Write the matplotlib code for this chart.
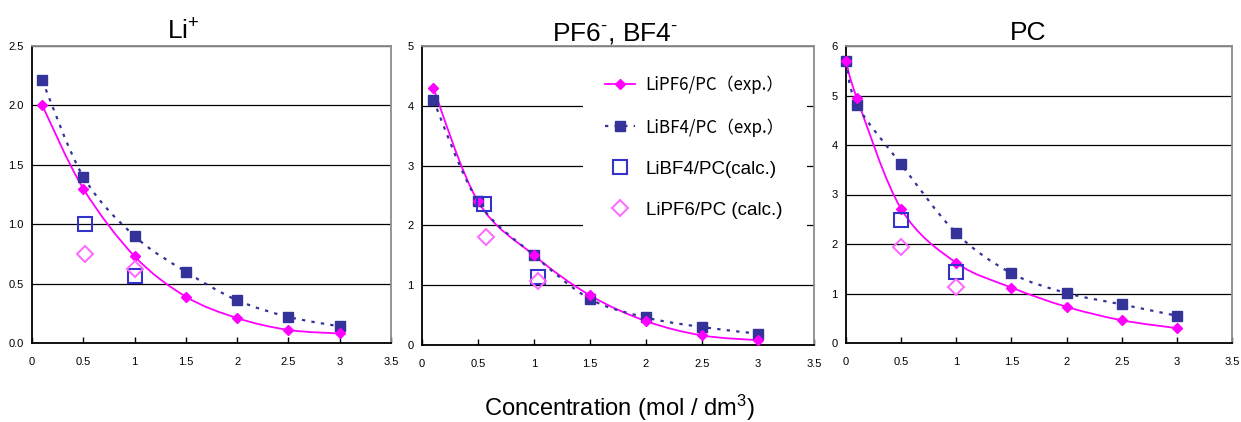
import matplotlib
matplotlib.use('Agg')
import matplotlib.pyplot as plt
from matplotlib.path import Path
from matplotlib.patches import PathPatch
from matplotlib.lines import Line2D
import numpy as np

# ---------------- data ----------------
conc_li = [0.1, 0.5, 1, 1.5, 2, 2.5, 3]
li_pf6_exp = [2.00, 1.30, 0.73, 0.39, 0.21, 0.11, 0.08]
li_bf4_exp = [2.21, 1.40, 0.90, 0.60, 0.36, 0.22, 0.14]
li_bf4_calc_x = [0.52, 1.0]
li_bf4_calc = [1.00, 0.56]
li_pf6_calc_x = [0.52, 1.0]
li_pf6_calc = [0.75, 0.62]

conc_an = [0.1, 0.5, 1, 1.5, 2, 2.5, 3]
an_pf6_exp = [4.30, 2.40, 1.50, 0.83, 0.40, 0.16, 0.08]
an_bf4_exp = [4.10, 2.40, 1.50, 0.77, 0.46, 0.30, 0.19]
an_bf4_calc_x = [0.55, 1.04]
an_bf4_calc = [2.35, 1.13]
an_pf6_calc_x = [0.57, 1.04]
an_pf6_calc = [1.80, 1.07]

conc_pc = [0, 0.1, 0.5, 1, 1.5, 2, 2.5, 3]
pc_pf6_exp = [5.70, 4.94, 2.71, 1.62, 1.12, 0.73, 0.46, 0.30]
pc_bf4_exp = [5.70, 4.81, 3.61, 2.22, 1.41, 1.01, 0.78, 0.55]
pc_bf4_calc_x = [0.5, 1.0]
pc_bf4_calc = [2.48, 1.44]
pc_pf6_calc_x = [0.5, 1.0]
pc_pf6_calc = [1.94, 1.13]

titles = ['Li$^{+}$', 'PF6$^{\u2010}$, BF4$^{\u2010}$', 'PC']
xticks = [0, 0.5, 1, 1.5, 2, 2.5, 3, 3.5]
xticklabels = ['0', '0.5', '1', '1.5', '2', '2.5', '3', '3.5']
legend_labels = ['LiPF6/PC（exp.）', 'LiBF4/PC（exp.）', 'LiBF4/PC(calc.)', 'LiPF6/PC (calc.)']
xlabel = 'Concentration (mol / dm$^{\\mathrm{3}}$)'

# ---------------- style ----------------
plt.rcParams['font.family'] = ['Liberation Sans', 'DejaVu Sans']
plt.rcParams['mathtext.fontset'] = 'custom'
plt.rcParams['mathtext.rm'] = 'Liberation Sans'
plt.rcParams['mathtext.it'] = 'Liberation Sans'

MAG = '#FF00FF'
NAVY = '#333399'
BLUE = '#3333CC'
PINK = '#FF66FF'
DOT = (0, (1.5, 2.8))


def smooth_path(x, y):
    x = np.asarray(x, float)
    y = np.asarray(y, float)
    n = len(x)
    verts = [(x[0], y[0])]
    codes = [Path.MOVETO]
    for i in range(n - 1):
        i0 = max(i - 1, 0)
        i3 = min(i + 2, n - 1)
        c1 = (x[i] + (x[i + 1] - x[i0]) / 6, y[i] + (y[i + 1] - y[i0]) / 6)
        c2 = (x[i + 1] - (x[i3] - x[i]) / 6, y[i + 1] - (y[i3] - y[i]) / 6)
        verts += [c1, c2, (x[i + 1], y[i + 1])]
        codes += [Path.CURVE4] * 3
    return Path(verts, codes)


fig = plt.figure(figsize=(12.41, 4.22), dpi=100)
W, H = 1241, 422
boxes = [(32, 46, 391, 343), (422, 46, 814, 345), (846, 46, 1232, 343)]
axes = []
for (l, t, r, b) in boxes:
    axes.append(fig.add_axes([l / W, 1 - b / H, (r - l) / W, (b - t) / H]))

panels = [
    (conc_li, li_pf6_exp, li_bf4_exp, li_bf4_calc_x, li_bf4_calc, li_pf6_calc_x, li_pf6_calc, 2.5, 0.5, '%.1f'),
    (conc_an, an_pf6_exp, an_bf4_exp, an_bf4_calc_x, an_bf4_calc, an_pf6_calc_x, an_pf6_calc, 5, 1, '%d'),
    (conc_pc, pc_pf6_exp, pc_bf4_exp, pc_bf4_calc_x, pc_bf4_calc, pc_pf6_calc_x, pc_pf6_calc, 6, 1, '%d'),
]

for ax, p in zip(axes, panels):
    cx, pf6, bf4, bx, bc, px, pcv, ymax, ystep, fmt = p
    ax.add_patch(PathPatch(smooth_path(cx, pf6), fill=False, edgecolor=MAG, lw=1.3, zorder=3))
    ax.add_patch(PathPatch(smooth_path(cx, bf4), fill=False, edgecolor=NAVY, lw=1.6,
                           linestyle=DOT, zorder=3))
    ax.plot(cx, bf4, ls='none', marker='s', ms=6.5, mfc=NAVY, mec=NAVY, zorder=4, clip_on=False)
    ax.plot(cx, pf6, ls='none', marker='D', ms=4.6, mfc=MAG, mec=MAG, zorder=5, clip_on=False)
    ax.plot(bx, bc, ls='none', marker='s', ms=10, mfc='none', mec=BLUE, mew=1.5, zorder=6, clip_on=False)
    ax.plot(px, pcv, ls='none', marker='D', ms=8, mfc='none', mec=PINK, mew=1.4, zorder=6, clip_on=False)

    ax.set_xlim(0, 3.5)
    ax.set_ylim(0, ymax)
    ax.set_xticks(xticks)
    ax.set_xticklabels(xticklabels)
    yt = np.arange(0, ymax + 1e-9, ystep)
    ax.set_yticks(yt)
    ax.set_yticklabels([fmt % v for v in yt])
    ax.grid(axis='y', color='black', lw=0.9)
    ax.grid(axis='x', visible=False)
    ax.set_axisbelow(True)
    for s in ['left', 'bottom']:
        ax.spines[s].set_color('black')
        ax.spines[s].set_linewidth(1.3)
    for s in ['top', 'right']:
        ax.spines[s].set_color('#8c8c8c')
        ax.spines[s].set_linewidth(1.3)
    ax.tick_params(axis='x', direction='in', length=4, width=1, pad=10, labelsize=8)
    ax.tick_params(axis='y', length=0, pad=6, labelsize=8)

# legend in middle panel
ax = axes[1]
handles = [
    Line2D([], [], color=MAG, lw=1.3, marker='D', ms=4.6, mfc=MAG, mec=MAG),
    Line2D([], [], color=NAVY, lw=1.6, ls=DOT, marker='s', ms=6.5, mfc=NAVY, mec=NAVY),
    Line2D([], [], ls='none', marker='s', ms=10, mfc='none', mec=BLUE, mew=1.5),
    Line2D([], [], ls='none', marker='D', ms=8, mfc='none', mec=PINK, mew=1.4),
]
leg = ax.legend(handles, legend_labels, loc='upper left', bbox_to_anchor=(0.41, 0.975),
                frameon=True, facecolor='white', edgecolor='none', framealpha=1,
                labelspacing=1.27, handlelength=1.6, handletextpad=0.55,
                borderpad=1.2, borderaxespad=0,
                prop={'family': ['Liberation Sans', 'DejaVu Sans'], 'size': 13.5})
leg.set_zorder(2)
for t in leg.get_texts()[:2]:
    t.set_fontfamily(['Noto Sans CJK JP', 'DejaVu Sans'])
    t.set_fontsize(12.2)

# titles
title_x = [183, 615, 1028]
for tx, tt in zip(title_x, titles):
    fig.text(tx / W, 1 - 40 / H, tt, ha='center', va='baseline', fontsize=19)

fig.text(619 / W, 1 - 416 / H, xlabel, ha='center', va='baseline', fontsize=17,
         family=['Liberation Sans', 'DejaVu Sans'])

fig.savefig('out.png', dpi=100)
